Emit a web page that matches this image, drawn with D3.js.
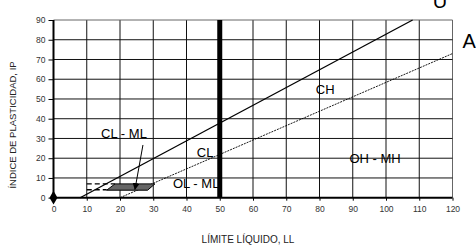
<!DOCTYPE html>
<html><head><meta charset="utf-8">
<script src="https://cdn.jsdelivr.net/npm/d3@7/dist/d3.min.js"></script>
<style>body{margin:0;background:#fff}svg{display:block}</style>
</head><body>
<svg id="c" width="476" height="246"></svg>
<script>
// ---- data ----
const llTicks = [0,10,20,30,40,50,60,70,80,90,100,110,120];
const ipTicks = [0,10,20,30,40,50,60,70,80,90];
const uLine = [[8,0],[108,90]];
const aLine = [[20,0],[120,73]];
const llDivide = [[50,0],[50,90]];
const clmlZone = [[16,3.8],[28.3,3.8],[30.5,7],[18.5,7]];
const dashLines = [[[10,7],[18.5,7]],[[10,4],[16,4]]];
const arrowLine = [[26.9,26.7],[24.5,4.2]];
const originPoint = [[0,0]];
const zoneLabels = [
  {text:"CH", ll:81.7, ip:52.5},
  {text:"OH - MH", ll:96.7, ip:17.6},
  {text:"CL", ll:45.6, ip:20.6},
  {text:"OL - ML", ll:42.9, ip:4.9},
  {text:"CL - ML", ll:21.2, ip:30.2}
];
const lineLabels = [
  {text:"U", ll:116.2, ip:96},
  {text:"A", ll:125, ip:75.8}
];
const xTitle = "LÍMITE LÍQUIDO, LL";
const yTitle = "ÍNDICE DE PLASTICIDAD, IP";

// ---- chart ----
const svg = d3.select("#c");
const font = "'Liberation Sans', Arial, sans-serif";
const x = d3.scaleLinear().domain([0,120]).range([53.5,452.5]);
const y = d3.scaleLinear().domain([0,90]).range([197.7,20]);
const line = d3.line().x(d=>x(d[0])).y(d=>y(d[1]));

const defs = svg.append("defs");
defs.append("marker").attr("id","arr").attr("viewBox","0 0 10 10")
  .attr("refX",9).attr("refY",5).attr("markerWidth",7).attr("markerHeight",7)
  .attr("orient","auto").attr("markerUnits","userSpaceOnUse")
  .append("path").attr("d","M0,0L10,5L0,10Z").attr("fill","#000");

// grid
const g = svg.append("g");
g.selectAll(".vg").data(llTicks.slice(1)).join("line")
  .attr("x1",d=>x(d)).attr("x2",d=>x(d)).attr("y1",y(0)).attr("y2",y(90))
  .attr("stroke",d=>d===120?"#666":"#111").attr("stroke-width",1);
g.selectAll(".hg").data(ipTicks.slice(1)).join("line")
  .attr("x1",x(0)).attr("x2",x(120)).attr("y1",d=>y(d)).attr("y2",d=>y(d))
  .attr("stroke",d=>d===90?"#666":"#111").attr("stroke-width",1);

// axes
const xAxis = d3.axisBottom(x).tickValues(llTicks).tickSize(3).tickPadding(5);
const yAxis = d3.axisLeft(y).tickValues(ipTicks).tickSize(5).tickPadding(3);
const gx = svg.append("g").attr("transform",`translate(0,${y(0)})`).call(xAxis);
const gy = svg.append("g").attr("transform",`translate(${x(0)},0)`).call(yAxis);
[gx,gy].forEach(a=>{
  a.select(".domain").attr("stroke","#000").attr("stroke-width",2);
  a.selectAll(".tick line").attr("stroke","#000");
  a.selectAll(".tick text").attr("font-family",font).attr("font-size","8.5px").attr("fill","#333");
});
gx.select(".domain").attr("d",`M${x(0)},0H${x(120)}`);
gy.select(".domain").attr("d",`M0,${y(0)}V${y(90)}`);

// thick LL=50 divider
svg.append("path").attr("d",line(llDivide)).attr("stroke","#000").attr("stroke-width",5).attr("fill","none");

// U and A lines
svg.append("path").attr("d",line(uLine)).attr("stroke","#000").attr("stroke-width",1.3).attr("fill","none");
svg.append("path").attr("d",line(aLine)).attr("stroke","#000").attr("stroke-width",0.9)
  .attr("stroke-dasharray","2,1").attr("fill","none");

// CL-ML zone
svg.append("path").attr("d",line(clmlZone)+"Z").attr("fill","#666").attr("stroke","#000").attr("stroke-width",1);
svg.selectAll(".dl").data(dashLines).join("path").attr("d",d=>line(d))
  .attr("stroke","#000").attr("stroke-width",1.4).attr("stroke-dasharray","5,3").attr("fill","none");

// arrow
svg.append("path").attr("d",line(arrowLine)).attr("stroke","#000").attr("stroke-width",1)
  .attr("fill","none").attr("marker-end","url(#arr)");

// origin diamond
svg.selectAll(".pt").data(originPoint).join("path")
  .attr("d",d3.symbol(d3.symbolDiamond,55))
  .attr("transform",d=>`translate(${x(d[0])},${y(d[1])})`).attr("fill","#000");

// labels
svg.selectAll(".zl").data(zoneLabels).join("text")
  .attr("x",d=>x(d.ll)).attr("y",d=>y(d.ip)).attr("text-anchor","middle")
  .attr("font-family",font).attr("font-size","13px").attr("fill","#000").text(d=>d.text);
svg.selectAll(".ll").data(lineLabels).join("text")
  .attr("x",d=>x(d.ll)).attr("y",d=>y(d.ip)).attr("text-anchor","middle")
  .attr("font-family",font).attr("font-size","20px").attr("fill","#000").text(d=>d.text);

// titles
svg.append("text").attr("x",248).attr("y",243).attr("text-anchor","middle")
  .attr("font-family",font).attr("font-size","10px").attr("fill","#222").text(xTitle);
svg.append("text").attr("transform","translate(15.5,125) rotate(-90)").attr("text-anchor","middle")
  .attr("font-family",font).attr("font-size","9.5px").attr("fill","#222").text(yTitle);
</script>
</body></html>
